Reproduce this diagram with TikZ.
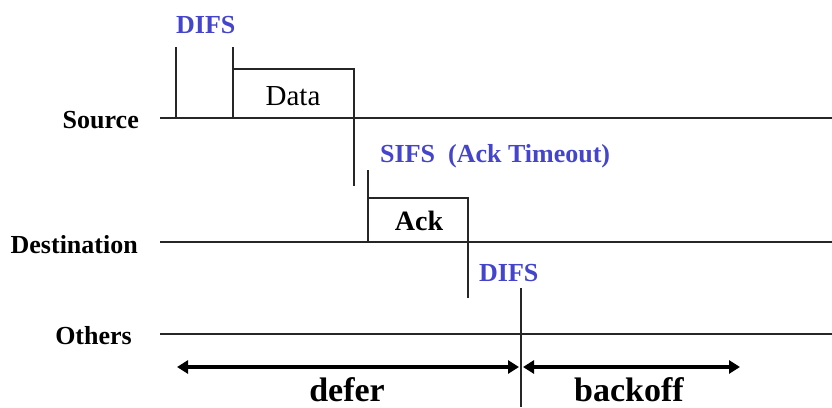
\documentclass[tikz,border=0pt]{standalone}
\usepackage{fontspec}
\setmainfont{Liberation Serif}
\usetikzlibrary{arrows.meta}
\definecolor{ifsblue}{RGB}{68,68,204}
\begin{document}
\begin{tikzpicture}[x=1pt,y=-1pt,
  timeline/.style={line width=1.3pt, draw=black!85},
  frame/.style={line width=1.3pt, draw=black!85},
  rowlabel/.style={font=\fontsize{26}{26}\selectfont\bfseries, anchor=base east, inner sep=0pt},
  gaplabel/.style={font=\fontsize{26}{26}\selectfont\bfseries, text=ifsblue, anchor=base west, inner sep=0pt},
  framelabel/.style={anchor=base, inner sep=0pt},
  spanarrow/.style={line width=4pt, {Triangle[length=11pt,width=13pt]}-{Triangle[length=11pt,width=13pt]}},
  spanlabel/.style={font=\fontsize{34}{34}\selectfont\bfseries, anchor=base, inner sep=0pt, text depth=0pt}]

\useasboundingbox (0,0) rectangle (832,407);

% station names
\node[rowlabel] (src) at (139,128) {Source};
\node[rowlabel] (dst) at (138,253) {Destination};
\node[rowlabel] (oth) at (132,344) {Others};

% time axes of the three stations
\coordinate (s0) at (160,118); \coordinate (s1) at (832,118);
\coordinate (d0) at (160,242); \coordinate (d1) at (832,242);
\coordinate (o0) at (160,334); \coordinate (o1) at (832,334);
\draw[timeline] (s0) -- (s1);
\draw[timeline] (d0) -- (d1);
\draw[timeline] (o0) -- (o1);

% DIFS before the data frame
\coordinate (difsA) at (176,47); \coordinate (difsAb) at (176,118);
\coordinate (difsB) at (233,47); \coordinate (difsBb) at (233,118);
\draw[frame] (difsA) -- (difsAb);
\draw[frame] (difsB) -- (difsBb);
\node[gaplabel] (difs1) at (176,33) {DIFS};

% data frame
\coordinate (dataTL) at (233,69); \coordinate (dataEnd) at (354,186);
\draw[frame] (dataTL) -| (dataEnd);
\node[framelabel, font=\fontsize{29}{29}\selectfont] (data) at (293,105) {Data};

% SIFS and acknowledgement
\coordinate (sifsT) at (368,170); \coordinate (sifsB) at (368,242);
\draw[frame] (sifsT) -- (sifsB);
\node[gaplabel] (sifs) at (380,162) {SIFS\ \ (Ack Timeout)};
\coordinate (ackTL) at (368,198); \coordinate (ackEnd) at (468,298);
\draw[frame] (ackTL) -| (ackEnd);
\node[framelabel, font=\fontsize{28}{28}\selectfont\bfseries] (ack) at (419,230) {Ack};

% DIFS after the acknowledgement
\node[gaplabel] (difs2) at (479,281) {DIFS};
\coordinate (mark0) at (521,288); \coordinate (mark1) at (521,407);
\draw[frame] (mark0) -- (mark1);

% defer and backoff periods
\coordinate (deferL) at (177,367); \coordinate (deferR) at (519,367);
\coordinate (backL) at (523,367); \coordinate (backR) at (740,367);
\draw[spanarrow] (deferL) -- (deferR);
\draw[spanarrow] (backL) -- (backR);
\node[spanlabel] (defer) at (347,401) {defer};
\node[spanlabel] (backoff) at (629,401) {backoff};
\end{tikzpicture}
\end{document}
